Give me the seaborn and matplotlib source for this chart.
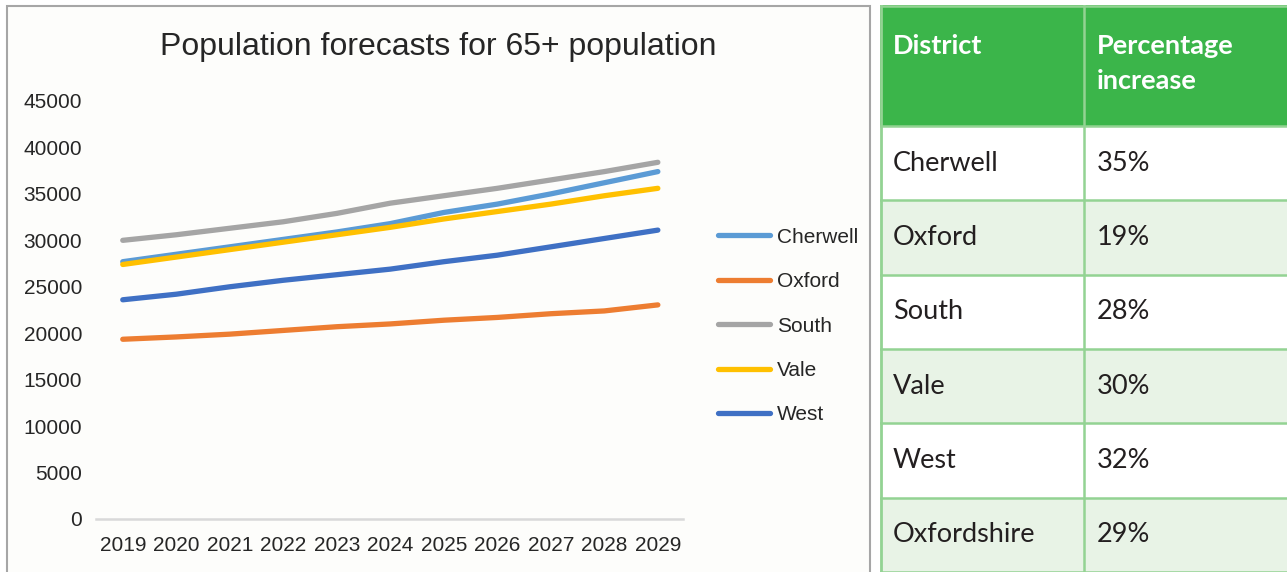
import matplotlib
matplotlib.use("Agg")
import matplotlib.pyplot as plt
from matplotlib.patches import Rectangle
import seaborn as sns
import pandas as pd

# Forecast 65+ population by district
years = list(range(2019, 2030))
cherwell = [27700, 28500, 29300, 30100, 30900, 31800, 33000, 33900, 35000, 36200, 37400]
oxford = [19350, 19600, 19900, 20300, 20700, 21000, 21400, 21700, 22100, 22400, 23050]
south = [30000, 30600, 31300, 32000, 32900, 34000, 34800, 35600, 36500, 37400, 38400]
vale = [27400, 28200, 29000, 29800, 30600, 31400, 32300, 33100, 33900, 34800, 35600]
west = [23600, 24200, 25000, 25700, 26300, 26900, 27700, 28400, 29300, 30200, 31100]
districts = ["Cherwell", "Oxford", "South", "Vale", "West"]

# Summary table
table_header = ["District", "Percentage\nincrease"]
table_districts = ["Cherwell", "Oxford", "South", "Vale", "West", "Oxfordshire"]
table_pct = ["35%", "19%", "28%", "30%", "32%", "29%"]

palette = {"Cherwell": "#5b9bd5", "Oxford": "#ed7d31", "South": "#a5a5a5",
           "Vale": "#ffc000", "West": "#3f70c4"}

df = pd.DataFrame({
    "Year": years * len(districts),
    "Population": cherwell + oxford + south + vale + west,
    "District": [d for d in districts for _ in years],
})

sns.set_theme(style="white")
plt.rcParams["font.family"] = ["Liberation Sans", "DejaVu Sans"]

W, H = 1287, 572
fig = plt.figure(figsize=(W / 100, H / 100), dpi=100)
fig.patch.set_facecolor("white")


def fx(px):
    return px / W


def fy(py):
    return 1 - py / H


# framed chart panel
panel = Rectangle((fx(6.5), fy(600)), fx(870) - fx(6.5), fy(5.5) - fy(600),
                  transform=fig.transFigure, facecolor="#fdfdfb",
                  edgecolor="#a6a6a6", lw=1.5, zorder=-5)
fig.patches.append(panel)

fig.text(fx(438), fy(47), "Population forecasts for 65+ population",
         ha="center", va="center", fontsize=23, color="#262626")

ax = fig.add_axes([fx(96), fy(519), fx(683) - fx(96), fy(101) - fy(519)])
ax.set_facecolor("none")
ax.set_zorder(2)
sns.lineplot(data=df, x="Year", y="Population", hue="District",
             hue_order=districts, palette=palette, linewidth=3.8,
             solid_capstyle="round", solid_joinstyle="round",
             ax=ax, legend=True)
ax.set_xlim(2018.5, 2029.47)
ax.set_ylim(0, 45000)
ax.set_xticks(years)
ax.set_yticks(range(0, 45001, 5000))
ax.set_xlabel("")
ax.set_ylabel("")
ax.tick_params(axis="both", length=0, labelsize=15, colors="#262626")
ax.tick_params(axis="y", pad=10)
ax.tick_params(axis="x", pad=12)
for side in ["top", "right", "left"]:
    ax.spines[side].set_visible(False)
ax.spines["bottom"].set_color("#d9d9d9")
ax.spines["bottom"].set_linewidth(1.8)
ax.grid(False)

handles, labels = ax.get_legend_handles_labels()
for h in handles:
    h.set_linewidth(3.8)
    h.set_solid_capstyle("round")
ax.legend(handles, labels, loc="center left",
          bbox_to_anchor=(fx(718), fy(326)), bbox_transform=fig.transFigure,
          frameon=False, fontsize=15, handlelength=2.5, handletextpad=0.35,
          labelspacing=1.22, borderpad=0, borderaxespad=0,
          labelcolor="#262626")

# district summary table
tab_top = 5
tab = fig.add_axes([fx(880), 0, 1 - fx(880), fy(tab_top)])
tab_h = H - tab_top
tab_w = W - 880
tab.set_xlim(0, tab_w)
tab.set_ylim(tab_h, 0)
tab.axis("off")

col_w = [204, tab_w - 204]
header_h = 121
row_h = (tab_h - header_h) / len(table_districts)
grid_col = "#93d393"
font_t = ["Lato", "DejaVu Sans"]

tab.add_patch(Rectangle((0, 0), tab_w, header_h, facecolor="#3bb54a",
                        edgecolor="none", zorder=1))
for i in range(len(table_districts)):
    fc = "white" if i % 2 == 0 else "#e8f3e6"
    tab.add_patch(Rectangle((0, header_h + i * row_h), tab_w, row_h,
                            facecolor=fc, edgecolor="none", zorder=1))

# grid lines
tab.axvline(1, color=grid_col, lw=2, zorder=3)
tab.axvline(col_w[0], color=grid_col, lw=1.8, zorder=3)
tab.axhline(0.8, color=grid_col, lw=1.8, zorder=3)
for i in range(len(table_districts) + 1):
    tab.axhline(header_h + i * row_h, color=grid_col, lw=1.8, zorder=3)

pad = 13
for j, lab in enumerate(table_header):
    x0 = sum(col_w[:j]) + pad
    for k, line in enumerate(lab.split("\n")):
        tab.text(x0, 41 + k * 35, line, ha="left", va="center",
                 fontsize=19.5, fontweight="bold", color="white",
                 family=font_t, zorder=4)

for i, (name, pct) in enumerate(zip(table_districts, table_pct)):
    yc = header_h + (i + 0.5) * row_h
    tab.text(pad, yc, name, ha="left", va="center", fontsize=19.5,
             color="#231f20", family=font_t, zorder=4)
    tab.text(col_w[0] + pad, yc, pct, ha="left", va="center", fontsize=19.5,
             color="#231f20", family=font_t, zorder=4)

fig.savefig("out.png", dpi=100)
